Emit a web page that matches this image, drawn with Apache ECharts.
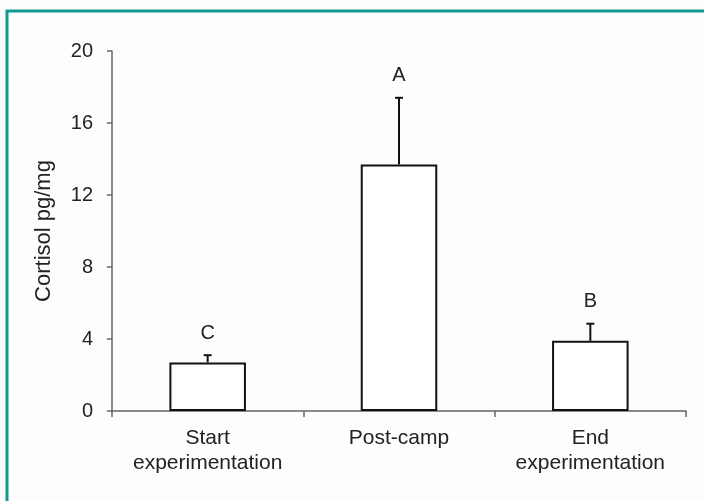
<!DOCTYPE html>
<html>
<head>
<meta charset="utf-8">
<script src="https://cdn.jsdelivr.net/npm/echarts@6/dist/echarts.min.js"></script>
<style>
html,body{margin:0;padding:0;background:#fff;}
#c{width:704px;height:501px;}
</style>
</head>
<body>
<div id="c"></div>
<script>
const categories = ['Start\nexperimentation', 'Post-camp', 'End\nexperimentation'];
const means = [2.7, 13.7, 3.9];
const errors = [0.4, 3.7, 0.95];
const letters = ['C', 'A', 'B'];
const yTicks = [0, 4, 8, 12, 16, 20];

const chart = echarts.init(document.getElementById('c'), null, {renderer: 'canvas'});
const font = 'Liberation Sans, Arial, sans-serif';

const option = {
  backgroundColor: '#fdfdfd',
  animation: false,
  graphic: [{
    type: 'rect',
    shape: {x: 7, y: 11, width: 720, height: 520},
    style: {fill: 'none', stroke: '#13998f', lineWidth: 3},
    silent: true
  }],
  grid: {left: 112, right: 18, top: 51, bottom: 90, containLabel: false},
  xAxis: {
    type: 'category',
    data: categories,
    boundaryGap: true,
    axisLine: {lineStyle: {color: '#666', width: 1.5}},
    axisTick: {show: true, interval: 0, length: 6, lineStyle: {color: '#666', width: 1.5}},
    axisLabel: {interval: 0, hideOverlap: false, color: '#222', fontSize: 21, fontFamily: font, lineHeight: 25, margin: 15}
  },
  yAxis: {
    type: 'value',
    min: yTicks[0],
    max: yTicks[yTicks.length - 1],
    interval: 4,
    name: 'Cortisol pg/mg',
    nameLocation: 'middle',
    nameGap: 57,
    nameTextStyle: {color: '#222', fontSize: 22, fontFamily: font},
    splitLine: {show: false},
    axisLine: {show: true, lineStyle: {color: '#666', width: 1.5}},
    axisTick: {show: true, length: 5, lineStyle: {color: '#666', width: 1.5}},
    axisLabel: {color: '#222', fontSize: 20, fontFamily: font, margin: 19}
  },
  series: [{
    type: 'bar',
    data: means,
    barWidth: '40%',
    itemStyle: {color: '#fff', borderColor: '#111', borderWidth: 2},
    z: 2
  }, {
    type: 'custom',
    data: means.map((m, i) => [i, m, m + errors[i], letters[i]]),
    renderItem: function (params, api) {
      const base = api.coord([api.value(0), api.value(1)]);
      const top = api.coord([api.value(0), api.value(2)]);
      const x = base[0];
      return {
        type: 'group',
        children: [
          {type: 'line', shape: {x1: x, y1: base[1], x2: x, y2: top[1]}, style: {stroke: '#111', lineWidth: 2}},
          {type: 'line', shape: {x1: x - 4, y1: top[1], x2: x + 4, y2: top[1]}, style: {stroke: '#111', lineWidth: 2}},
          {type: 'text', style: {text: api.value(3), x: x, y: top[1] - 22, align: 'center', verticalAlign: 'middle', fill: '#222', fontSize: 20, fontFamily: font}}
        ]
      };
    },
    z: 3
  }]
};
chart.setOption(option);
</script>
</body>
</html>
